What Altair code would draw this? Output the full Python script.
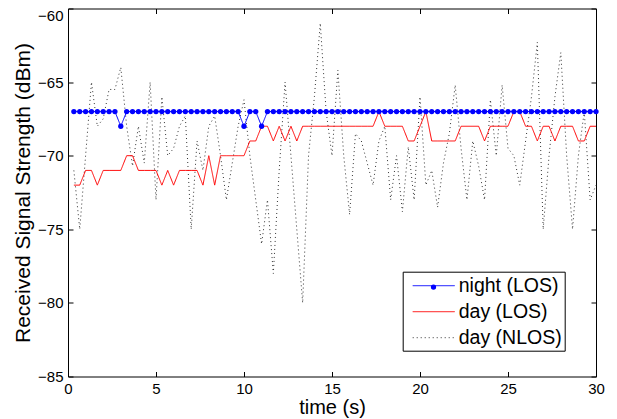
import altair as alt
import pandas as pd

SERIES = ["night (LOS)", "day (LOS)", "day (NLOS)"]
COLORS = ["#0000ff", "#ff0000", "#333333"]

# sample times (s): one sample every 1/3 s
time_s = [round(i / 3, 4) for i in range(1, 91)]

night_los = [
    -67, -67, -67, -67, -67, -67, -67, -67, -68, -67,
    -67, -67, -67, -67, -67, -67, -67, -67, -67, -67,
    -67, -67, -67, -67, -67, -67, -67, -67, -67, -68,
    -67, -67, -68, -67, -67, -67, -67, -67, -67, -67,
    -67, -67, -67, -67, -67, -67, -67, -67, -67, -67,
    -67, -67, -67, -67, -67, -67, -67, -67, -67, -67,
    -67, -67, -67, -67, -67, -67, -67, -67, -67, -67,
    -67, -67, -67, -67, -67, -67, -67, -67, -67, -67,
    -67, -67, -67, -67, -67, -67, -67, -67, -67, -67,
]

day_los = [
    -72, -72, -71, -71, -72, -71, -71, -71, -71, -70,
    -70, -71, -71, -71, -71, -72, -71, -72, -71, -71,
    -71, -71, -72, -70, -72, -70, -70, -70, -70, -70,
    -69, -69, -68, -68, -69, -68, -69, -68, -69, -68,
    -68, -68, -68, -68, -68, -68, -68, -68, -68, -68,
    -68, -68, -67, -68, -68, -68, -68, -69, -69, -68,
    -67, -69, -69, -69, -69, -69, -68, -68, -68, -68,
    -69, -68, -68, -68, -68, -67, -67, -68, -68, -69,
    -68, -68, -69, -68, -68, -68, -69, -69, -68, -68,
]

day_nlos = [
    -71, -75, -70, -65, -68, -67.5, -65.5, -65.5, -64, -68,
    -70.7, -68, -70.5, -65, -73, -66, -70, -69.5, -68, -67.3,
    -75, -69, -71, -68, -67.3, -70, -73, -70.5, -68, -66.2,
    -70, -73, -76, -73, -78, -71, -65, -70, -75, -80,
    -70, -66, -61, -67, -70, -64.2, -70, -74, -68.5, -69,
    -70.5, -72, -69, -68, -73, -70, -73.8, -69.4, -73, -66,
    -72, -71, -73.5, -70.5, -68.5, -65.2, -69.5, -73, -69, -70.7,
    -73, -66.2, -70, -65.2, -69.5, -70, -72, -69, -66, -62.3,
    -75, -70, -66, -63, -70, -75, -70, -67, -73, -72,
]

x_ticks = [0, 5, 10, 15, 20, 25, 30]
y_ticks = [-85, -80, -75, -70, -65, -60]

rows = []
for name, vals in (("day (NLOS)", day_nlos), ("day (LOS)", day_los), ("night (LOS)", night_los)):
    for tt, v in zip(time_s, vals):
        rows.append({"t": tt, "v": v, "series": name})
df = pd.DataFrame(rows)
night_df = df[df["series"] == "night (LOS)"].assign(mk="night (LOS)")

FONT = "Liberation Sans"
xs = alt.Scale(domain=[0, 30], nice=False, zero=False)
ys = alt.Scale(domain=[-85, -60], nice=False, zero=False)

axis_x_labels = alt.Axis(
    orient="bottom", values=x_ticks, title="time (s)", grid=False, domain=False,
    ticks=False, labelPadding=5, labelFont=FONT, labelFontSize=15, labelColor="black",
    labelFlush=False, labelOverlap=False, titleFont=FONT, titleFontSize=20,
    titleFontWeight="normal", titleColor="black", titlePadding=1,
)
axis_y_labels = alt.Axis(
    orient="left", values=y_ticks, title="Received Signal Strength (dBm)", grid=False,
    domain=False, ticks=False, labelPadding=5, labelFont=FONT, labelFontSize=15,
    labelColor="black", labelFlush=False, labelOverlap=False,
    labelOffset={"condition": {"test": "datum.value === -60", "value": 7}, "value": 0},
    titleFont=FONT, titleFontSize=21, titleFontWeight="normal", titleColor="black",
    titlePadding=4,
)


def tick_axis(orient, vals):
    return alt.Axis(
        orient=orient, values=vals, labels=False, domain=False, ticks=True,
        tickSize=5, tickColor="black", tickWidth=1, offset=-5, grid=False, title=None,
    )


main_legend = alt.Legend(
    orient="none", legendX=334.7, legendY=263.2, title=None, fillColor="white",
    strokeColor="black", padding=3, symbolType="M-2,0H2", symbolSize=441,
    symbolStrokeWidth=1, symbolOffset=17, labelOffset=14, labelFont=FONT,
    labelFontSize=19.5, labelColor="black", rowPadding=5, cornerRadius=0, zindex=1,
)

lines = alt.Chart(df).mark_line(strokeWidth=1).encode(
    x=alt.X("t:Q", scale=xs, axis=axis_x_labels),
    y=alt.Y("v:Q", scale=ys, axis=axis_y_labels),
    color=alt.Color("series:N", scale=alt.Scale(domain=SERIES, range=COLORS), legend=main_legend),
    strokeDash=alt.StrokeDash(
        "series:N",
        scale=alt.Scale(domain=SERIES, range=[[1, 0], [1, 0], [1, 3]]),
        legend=main_legend,
    ),
)

pts = alt.Chart(night_df).mark_point(
    filled=True, size=28, opacity=1, color="#0000ff", strokeWidth=0
).encode(
    x=alt.X("t:Q", scale=xs, axis=tick_axis("bottom", x_ticks)),
    y=alt.Y("v:Q", scale=ys, axis=tick_axis("left", y_ticks)),
    shape=alt.Shape(
        "mk:N",
        scale=alt.Scale(domain=["night (LOS)"], range=["circle"]),
        legend=alt.Legend(
            orient="none", legendX=362.5, legendY=275.6, title=None, padding=0,
            symbolSize=28, symbolFillColor="#0000ff", symbolStrokeWidth=0,
            symbolOffset=0, labelExpr="''", labelFontSize=5, zindex=2,
        ),
    ),
)

ticks2 = alt.Chart(night_df).mark_point(opacity=0, size=1).encode(
    x=alt.X("t:Q", scale=xs, axis=tick_axis("top", x_ticks)),
    y=alt.Y("v:Q", scale=ys, axis=tick_axis("right", y_ticks)),
)

chart = (
    alt.layer(lines, pts, ticks2)
    .resolve_axis(x="independent", y="independent")
    .properties(
        width=528, height=368,
        padding={"left": 60, "top": 0.5, "right": 13, "bottom": 42.5},
        autosize=alt.AutoSizeParams(type="none"),
    )
    .configure_view(stroke="black", strokeWidth=1)
)

chart.save("out.html", embed_options={"renderer": "svg", "actions": False})
